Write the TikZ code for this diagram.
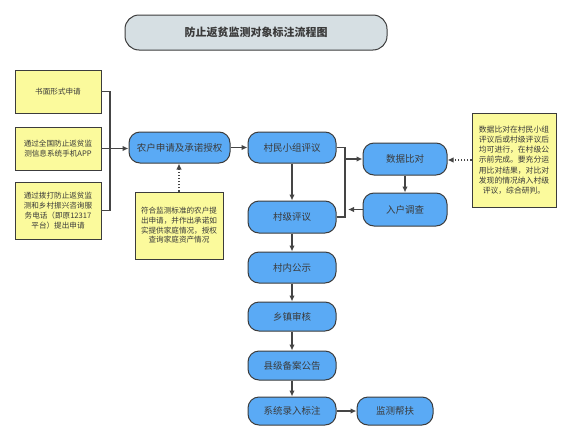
\documentclass[tikz,border=0pt]{standalone}
\usepackage{fontspec}
\newfontfamily\cjk{Noto Sans CJK SC}
\usetikzlibrary{arrows.meta}
\definecolor{nodeblue}{HTML}{5AAAF5}
\definecolor{noteyellow}{HTML}{FBFA9C}
\definecolor{titlefill}{HTML}{D6DFE3}
\definecolor{bordergray}{HTML}{3C3C3C}
\definecolor{linegray}{HTML}{454545}
\definecolor{textgray}{HTML}{3A3A3A}
\tikzset{
  bluebox/.style={rectangle, rounded corners=11pt, fill=nodeblue, draw=bordergray, line width=1pt,
    text=textgray, font=\cjk\fontsize{9.5}{11}\selectfont, inner sep=0pt, align=center},
  notebox/.style={rectangle, fill=noteyellow, draw=bordergray, line width=0.9pt,
    text=textgray, font=\cjk\fontsize{7.6}{10.2}\selectfont, inner sep=0pt, align=center},
  titlebox/.style={rectangle, rounded corners=14pt, fill=titlefill, draw=bordergray, line width=1pt,
    text=textgray, font=\cjk\bfseries\fontsize{11}{13}\selectfont, inner sep=0pt},
  conn/.style={draw=linegray, line width=1.1pt},
  arr/.style={conn, -{Latex[length=6pt,width=5.5pt]}},
  dotarr/.style={arr, dotted},
}
\begin{document}
\begin{tikzpicture}[x=1pt, y=-1pt]
\useasboundingbox (0,0) rectangle (570,442);
% title
\node[titlebox, minimum width=262pt, minimum height=35pt] (title) at (256,32.5) {防止返贫监测对象标注流程图};
% left notes
\node[notebox, minimum width=86pt, minimum height=43pt] (y1) at (58,91.5) {书面形式申请};
\node[notebox, minimum width=86pt, minimum height=43pt] (y2) at (58,148.5) {通过全国防止返贫监\\测信息系统手机APP};
\node[notebox, minimum width=86pt, minimum height=57pt] (y3) at (58,210.5) {通过拨打防止返贫监\\测和乡村振兴咨询服\\务电话（即原12317\\平台）提出申请};
\node[notebox, minimum width=88pt, minimum height=67pt, font=\cjk\fontsize{7.6}{9.6}\selectfont] (y4) at (179,225.5) {符合监测标准的农户提\\出申请，并作出承诺如\\实提供家庭情况，授权\\查询家庭资产情况};
\node[notebox, minimum width=84pt, minimum height=94pt, font=\cjk\fontsize{7.8}{10.2}\selectfont] (y5) at (514,160) {数据比对在村民小组\\评议后或村级评议后\\均可进行，在村级公\\示前完成。要充分运\\用比对结果，对比对\\发现的情况纳入村级\\评议，综合研判。};
% blue steps
\node[bluebox, minimum width=101pt, minimum height=31pt] (nonghu) at (179.5,147.5) {农户申请及承诺授权};
\node[bluebox, minimum width=88pt, minimum height=31pt] (cunmin) at (292,147.5) {村民小组评议};
\node[bluebox, minimum width=88pt, minimum height=32pt] (cunji) at (292,217) {村级评议};
\node[bluebox, minimum width=88pt, minimum height=31pt] (cunnei) at (292,267.5) {村内公示};
\node[bluebox, minimum width=88pt, minimum height=29pt] (xiangzhen) at (292,316.5) {乡镇审核};
\node[bluebox, minimum width=88pt, minimum height=29pt] (xianji) at (292,365.5) {县级备案公告};
\node[bluebox, minimum width=88pt, minimum height=28pt] (xitong) at (292,411) {系统录入标注};
\node[bluebox, minimum width=76pt, minimum height=28pt] (jiance) at (395,411) {监测帮扶};
\node[bluebox, minimum width=84pt, minimum height=32pt] (shuju) at (405,159) {数据比对};
\node[bluebox, minimum width=84pt, minimum height=33pt] (ruhu) at (405,209.5) {入户调查};
% coordinates
\coordinate (lj) at (110,148.5);
\coordinate (rj) at (345,159);
\coordinate (rback) at (348,209.5);
% connectors
\draw[conn] (y1.east) -| (lj);
\draw[conn] (y3.east) -| (lj);
\draw[arr] (y2.east) -- (y2.east -| nonghu.west);
\draw[dotarr] (y4.north) -- (y4.north |- nonghu.south);
\draw[arr] (nonghu) -- (cunmin);
\draw[arr] (cunmin) -- (cunji);
\draw[arr] (cunji) -- (cunnei);
\draw[arr] (cunnei) -- (xiangzhen);
\draw[arr] (xiangzhen) -- (xianji);
\draw[arr] (xianji) -- (xitong);
\draw[arr] (xitong) -- (jiance);
\draw[conn] (cunmin.east) -| (rj);
\draw[conn] (cunji.east) -| (rj);
\draw[arr] (rj) -- (shuju.west);
\draw[arr] (shuju) -- (ruhu);
\draw[arr] (ruhu.west) -- (rback);
\draw[dotarr] (y5.west) -- (y5.west -| shuju.east);
\end{tikzpicture}
\end{document}
